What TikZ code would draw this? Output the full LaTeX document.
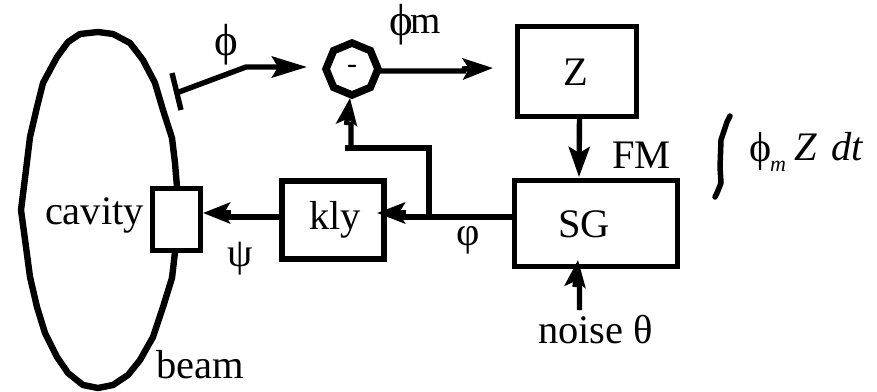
\documentclass[tikz,border=0pt]{standalone}
\usepackage{fontspec}
\setmainfont{Liberation Serif}
\usetikzlibrary{arrows.meta,shapes.geometric}
\tikzset{
  x=1pt,y=-1pt,
  lbl/.style={anchor=base west,inner sep=0pt,outer sep=0pt,font=\fontsize{40.5}{40.5}\selectfont},
  lblc/.style={anchor=base,inner sep=0pt,outer sep=0pt,font=\fontsize{40.5}{40.5}\selectfont},
  sym/.style={anchor=base,inner sep=0pt,outer sep=0pt,font=\fontsize{45}{45}\selectfont},
  boxn/.style={draw=black,fill=white,line width=5.6pt,rectangle,inner sep=0pt,outer sep=0pt,line join=miter},
  wire/.style={line width=5.4pt,draw=black,line join=miter},
  hd/.style={-{Stealth[length=#1,width=21pt,inset=6pt]}},
}
\begin{document}
\begin{tikzpicture}
\useasboundingbox (0,0) rectangle (877,391);
% beam loop
\draw[line width=6.4pt,line join=round] (98,32) -- (80,34) -- (68,42) -- (57,57) -- (43,83) -- (37,107) -- (30,137) -- (26,170) -- (21,210) -- (26,247) -- (30,277) -- (37,307) -- (45,333) -- (57,357) -- (68,373) -- (83,385) -- (98,388) -- (113,385) -- (128,375) -- (140,360) -- (153,337) -- (163,307) -- (172,278) -- (175,252) -- (177,187) -- (175,163) -- (172,138) -- (163,110) -- (155,83) -- (143,60) -- (130,43) -- (113,34) -- cycle;
% boxes
\node[boxn,minimum width=48pt,minimum height=62pt] (cav) at (176.5,219.5) {};
\node[boxn,minimum width=102pt,minimum height=78pt] (kly) at (333,220) {};
\node[boxn,minimum width=163pt,minimum height=86pt] (sg) at (596,223.5) {};
\node[boxn,minimum width=119pt,minimum height=90pt] (z) at (577,71.5) {};
\node[regular polygon,regular polygon sides=8,shape border rotate=22.5,draw=black,fill=white,line width=7.5pt,minimum size=52pt,inner sep=0pt,outer sep=0pt,font=\fontsize{30}{30}\selectfont] (sum) at (352,69) {-};
% coordinates
\coordinate (pickA) at (172,73);
\coordinate (pickB) at (181,110);
\coordinate (pickS) at (179,92);
\coordinate (pickK) at (246,67);
\coordinate (junc) at (429,217);
\coordinate (fb) at (351,148);
\coordinate (noise) at (579.5,310);
% connectors
\draw[wire] (pickA) -- (pickB);
\draw[wire,hd=35pt] (pickS) -- (pickK) -- (307,67);
\draw[wire,hd=30pt] (sum.east |- 0,71) -- (466,71) (462,69) -- (493,68);
\draw[wire] (junc) -- (junc |- fb) -- (345,148);
\draw[wire,hd=27pt] (fb) -- (351,122) (346.5,125) -- (350,98);
\draw[wire] (sg.west |- junc) -- (junc);
\draw[wire,hd=28pt] (junc) -- (400,217) (406,213) -- (377,213);
\draw[wire,hd=27pt] (kly.west |- junc) -- (226,217) (231,213) -- (203,213);
\draw[wire,hd=30pt] (z.south -| noise) -- (579,177);
\draw[wire,hd=27pt] (noise) -- (579.5,283) (575,287) -- (578,260);
% integral sign
\draw[line width=5.5pt,line cap=round,line join=round] (730,116) -- (727,122) -- (721,140) -- (720,167) -- (721,183) -- (717,193) -- (715,197);
% labels
\node[sym] (lphi) at (226,55) {ϕ};
\node[anchor=base west,inner sep=0pt,font=\fontsize{45}{45}\selectfont] (lphim) at (389,35) {ϕ};
\node[anchor=base west,inner sep=0pt,outer sep=0pt,font=\fontsize{39}{39}\selectfont] (lm2) at (410,33) {m};
\node[lblc] (lz) at (576,85) {Z};
\node[lbl] (lfm) at (612,168) {FM};
\node[lblc] (lsg) at (584,237) {SG};
\node[lblc] (lkly) at (335,229) {kly};
\node[lblc] (lpsi) at (240,266) {ψ};
\node[lblc] (lvphi) at (468,245) {φ};
\node[lbl] (lcav) at (45,224) {cavity};
\node[lbl] (lbeam) at (156,378) {beam};
\node[lbl] (lnoise) at (538,343) {noise θ};
\node[anchor=base west,inner sep=0pt,font=\fontsize{42}{42}\selectfont] (lint) at (749,161) {ϕ};
\node[anchor=base west,inner sep=0pt,font=\fontsize{22}{22}\selectfont\itshape] (lm) at (770,171) {m};
\node[lbl,font=\fontsize{40.5}{40.5}\selectfont\itshape] (lzdt) at (794,160) {Z};
\node[lbl,font=\fontsize{40.5}{40.5}\selectfont\itshape] (ldt) at (831,160) {dt};
\end{tikzpicture}
\end{document}
